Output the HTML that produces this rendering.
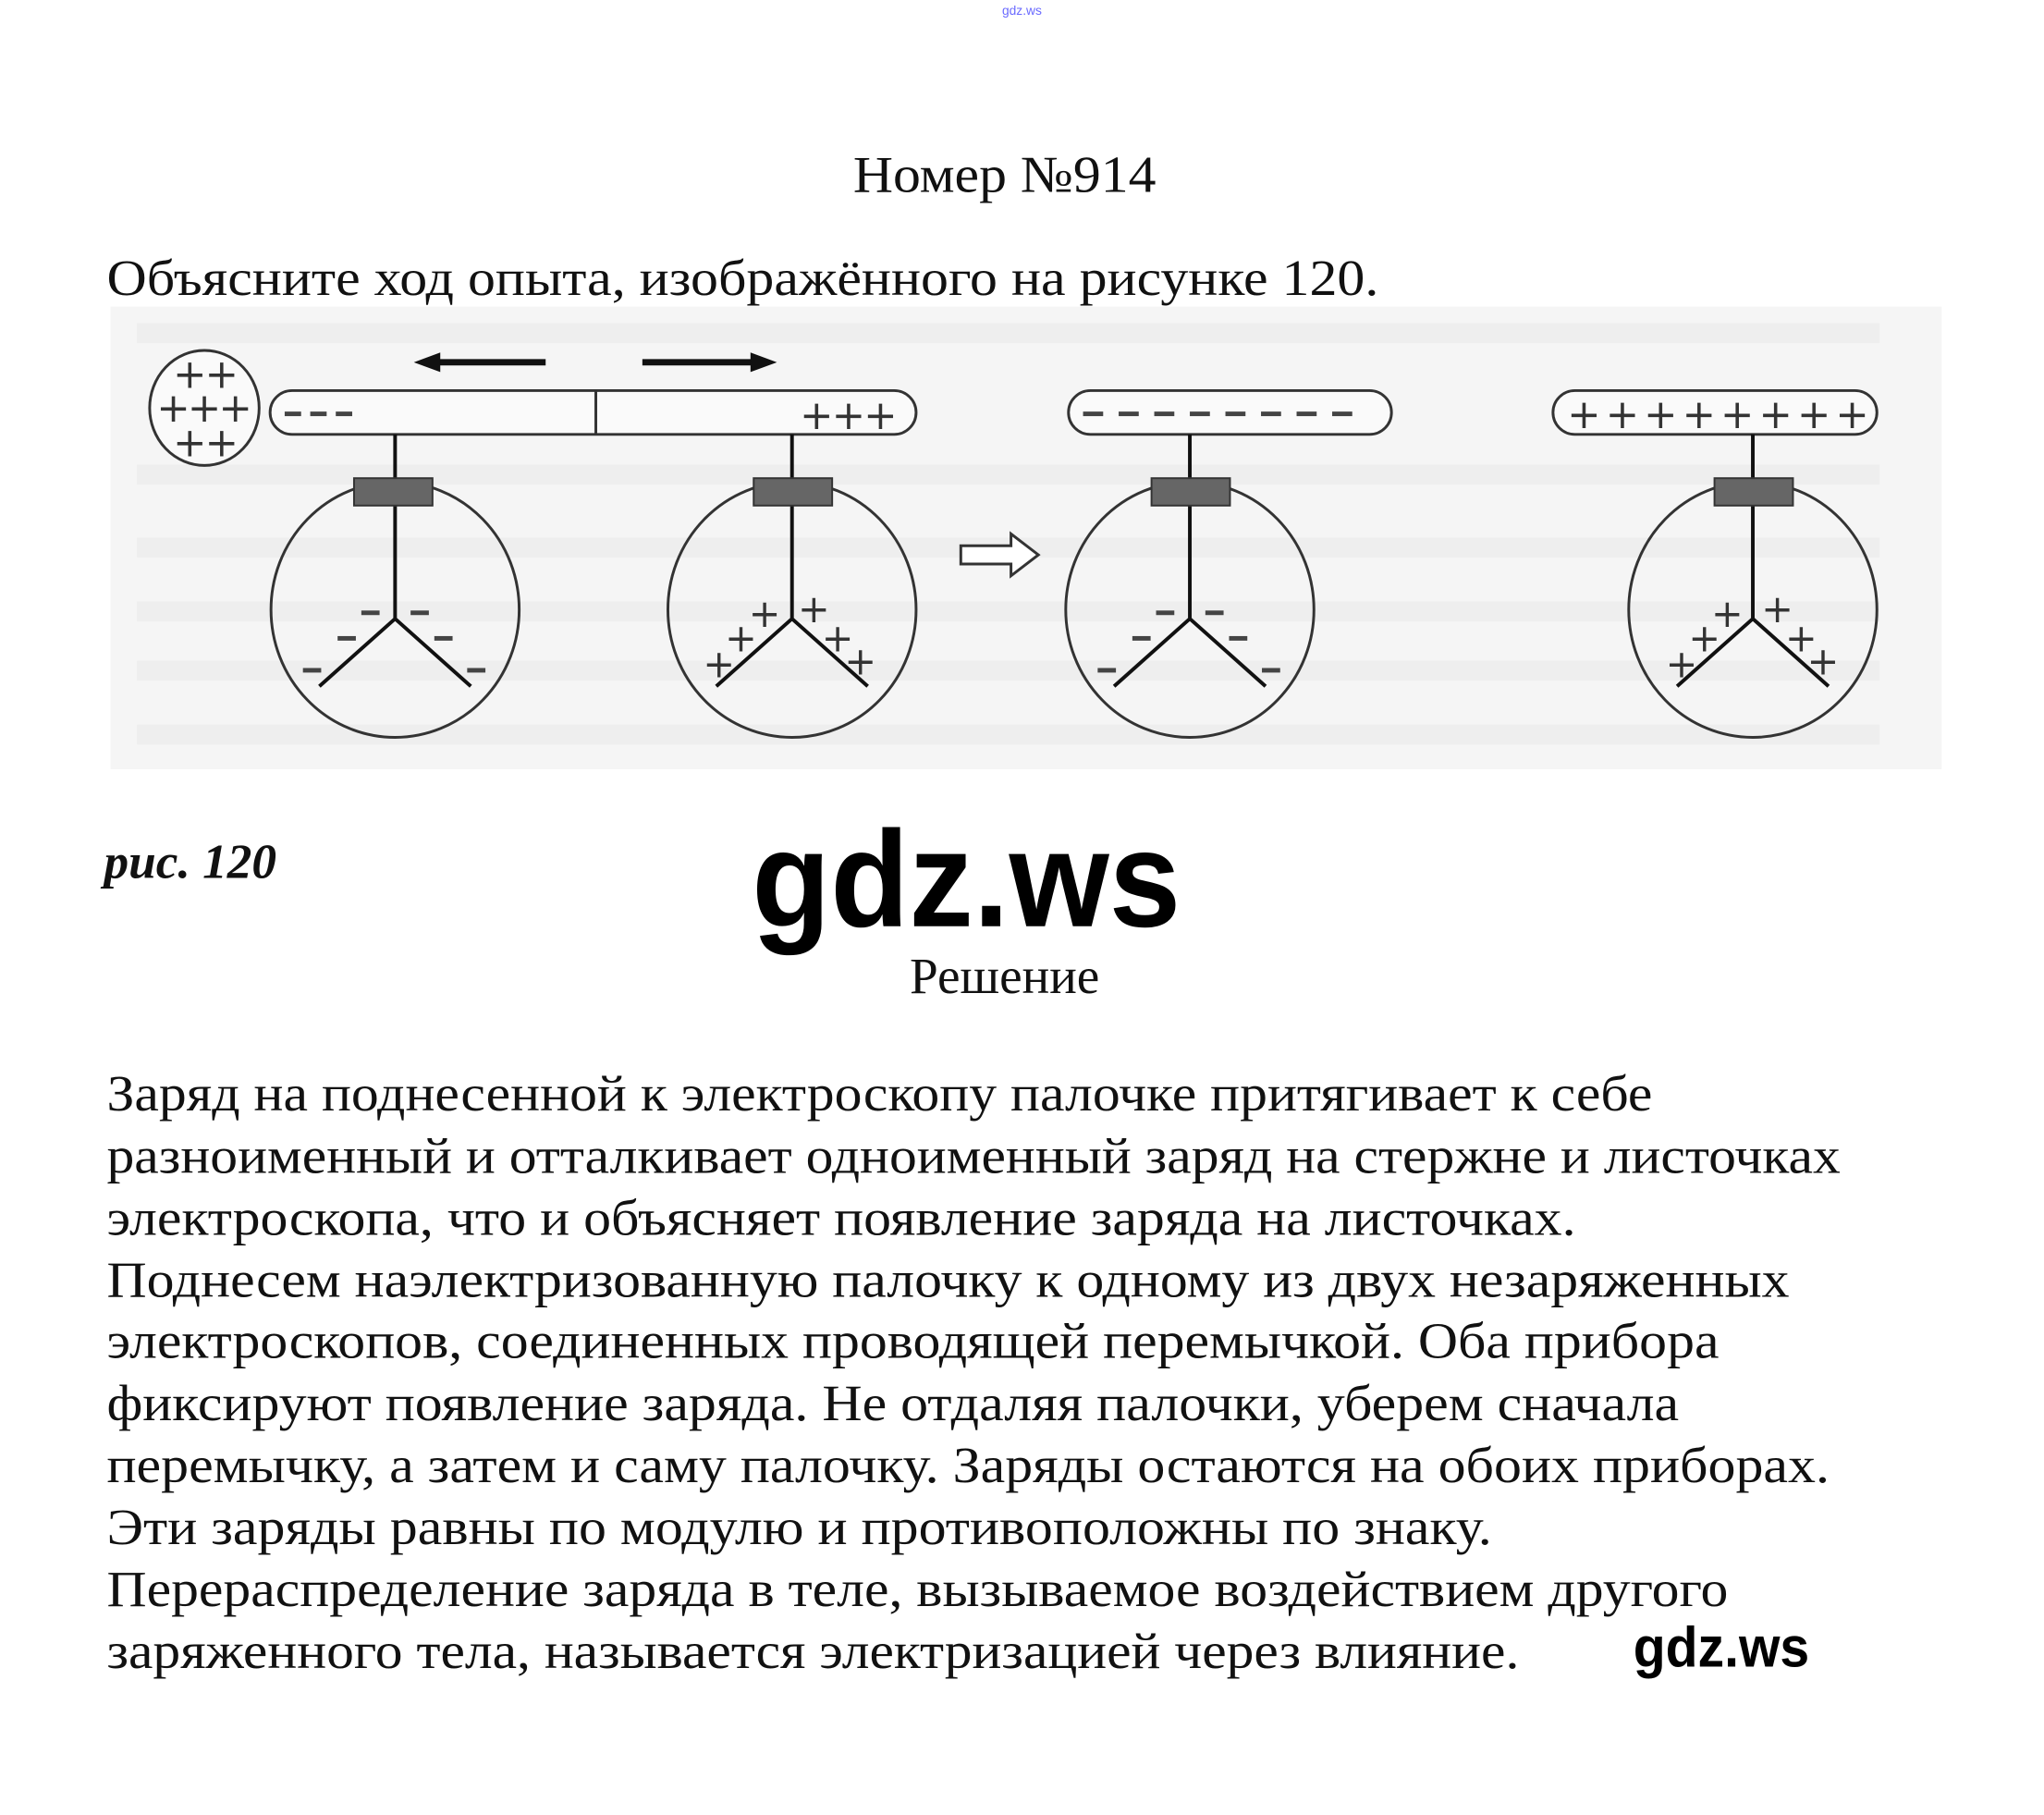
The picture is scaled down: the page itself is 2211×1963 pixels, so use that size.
<!DOCTYPE html>
<html><head><meta charset="utf-8"><style>
html,body{margin:0;padding:0;background:#fff;}
svg{display:block;}
</style></head><body>
<svg width="2211" height="1963" viewBox="0 0 2211 1963" xmlns="http://www.w3.org/2000/svg">
<rect width="2211" height="1963" fill="#fff"/>
<g transform="scale(0.987)">
<text x="1120" y="16" font-family="Liberation Sans, sans-serif" font-size="14" fill="#6a6aff" text-anchor="middle">gdz.ws</text>
<g font-family="Liberation Serif, 'Noto Serif CJK SC', serif" fill="#111">
<text x="935" y="210" font-size="57" textLength="332" lengthAdjust="spacingAndGlyphs">Номер №914</text>
<text x="117" y="323" font-size="56" textLength="1394" lengthAdjust="spacingAndGlyphs">Объясните ход опыта, изображённого на рисунке 120.</text>
</g>
<rect x="121" y="336" width="2007" height="507" fill="#f5f5f5"/>
<g stroke="#ebebeb" stroke-width="22" opacity="0.6">
<line x1="150" y1="365" x2="2060" y2="365"/>
<line x1="150" y1="520" x2="2060" y2="520"/>
<line x1="150" y1="600" x2="2060" y2="600"/>
<line x1="150" y1="670" x2="2060" y2="670"/>
<line x1="150" y1="735" x2="2060" y2="735"/>
<line x1="150" y1="805" x2="2060" y2="805"/>
</g>
<g stroke="#333" fill="none" stroke-width="3">
<ellipse cx="224" cy="447" rx="60" ry="63" fill="#fafafa"/>
<rect x="296" y="428" width="708" height="48" rx="24" fill="#fafafa"/>
<line x1="653" y1="428" x2="653" y2="476"/>
<rect x="1171" y="428" width="354" height="48" rx="24" fill="#fafafa"/>
<rect x="1702" y="428" width="355" height="48" rx="24" fill="#fafafa"/>
<ellipse cx="433" cy="668" rx="136" ry="140"/>
<ellipse cx="868" cy="668" rx="136" ry="140"/>
<ellipse cx="1304" cy="668" rx="136" ry="140"/>
<ellipse cx="1921" cy="668" rx="136" ry="140"/>
<g stroke="#111" stroke-width="4">
<path d="M433 476 V678 M433 678 L350 752 M433 678 L516 752"/>
<path d="M868 476 V678 M868 678 L785 752 M868 678 L951 752"/>
<path d="M1304 476 V678 M1304 678 L1221 752 M1304 678 L1387 752"/>
<path d="M1921 476 V678 M1921 678 L1838 752 M1921 678 L2004 752"/>
</g>
<path d="M1053 598 H1108 V585 L1138 608 L1108 631 V618 H1053 Z" stroke-width="3" fill="#fff"/>
</g>
<g fill="#666" stroke="#333" stroke-width="2">
<rect x="388" y="524" width="86" height="30"/>
<rect x="826" y="524" width="86" height="30"/>
<rect x="1262" y="524" width="86" height="30"/>
<rect x="1879" y="524" width="86" height="30"/>
</g>
<g fill="#111" stroke="#111">
<line x1="598" y1="397" x2="478" y2="397" stroke-width="7"/>
<polygon points="455,397 482,387 482,407" />
<line x1="704" y1="397" x2="826" y2="397" stroke-width="7"/>
<polygon points="850,397 823,387 823,407"/>
</g>
<g font-family="DejaVu Sans, sans-serif" fill="#333" text-anchor="middle">
<g font-size="44">
<text x="208" y="425">+</text><text x="243" y="425">+</text>
<text x="190" y="462">+</text><text x="224" y="462">+</text><text x="258" y="462">+</text>
<text x="208" y="500">+</text><text x="243" y="500">+</text>
<text x="895" y="470">+</text><text x="930" y="470">+</text><text x="965" y="470">+</text>
<text x="1736" y="469">+</text><text x="1778" y="469">+</text><text x="1820" y="469">+</text><text x="1862" y="469">+</text>
<text x="1904" y="469">+</text><text x="1946" y="469">+</text><text x="1988" y="469">+</text><text x="2030" y="469">+</text>
</g>
<g font-size="42">
<text x="838" y="687">+</text><text x="892" y="682">+</text>
<text x="812" y="714">+</text><text x="918" y="714">+</text>
<text x="788" y="742">+</text><text x="943" y="739">+</text>
<text x="1893" y="687">+</text><text x="1948" y="682">+</text>
<text x="1868" y="714">+</text><text x="1974" y="714">+</text>
<text x="1843" y="742">+</text><text x="1998" y="739">+</text>
</g>
</g>
<g fill="#444">
<rect x="312" y="451" width="18" height="5"/><rect x="340" y="451" width="18" height="5"/><rect x="368" y="451" width="18" height="5"/>
<rect x="1187" y="451" width="22" height="5"/><rect x="1226" y="451" width="22" height="5"/><rect x="1265" y="451" width="22" height="5"/><rect x="1304" y="451" width="22" height="5"/><rect x="1343" y="451" width="22" height="5"/><rect x="1382" y="451" width="22" height="5"/><rect x="1421" y="451" width="22" height="5"/><rect x="1460" y="451" width="22" height="5"/>
<rect x="396" y="669" width="20" height="5"/><rect x="450" y="669" width="20" height="5"/>
<rect x="370" y="697" width="20" height="5"/><rect x="476" y="697" width="20" height="5"/>
<rect x="332" y="732" width="20" height="5"/><rect x="512" y="732" width="20" height="5"/>
<rect x="1267" y="669" width="20" height="5"/><rect x="1321" y="669" width="20" height="5"/>
<rect x="1241" y="697" width="20" height="5"/><rect x="1347" y="697" width="20" height="5"/>
<rect x="1203" y="732" width="20" height="5"/><rect x="1383" y="732" width="20" height="5"/>
</g>
<text x="114" y="962" font-family="Liberation Serif, serif" font-size="54" font-weight="bold" font-style="italic" fill="#111">рис. 120</text>
<text x="1059" y="1015" font-family="Liberation Sans, sans-serif" font-size="150" font-weight="bold" fill="#000" text-anchor="middle" textLength="470" lengthAdjust="spacingAndGlyphs">gdz.ws</text>
<text x="1101" y="1088" font-family="Liberation Serif, serif" font-size="56" fill="#111" text-anchor="middle">Решение</text>
<g font-family="Liberation Serif, serif" font-size="56" fill="#111">
<text x="117" y="1217" textLength="1694" lengthAdjust="spacingAndGlyphs">Заряд на поднесенной к электроскопу палочке притягивает к себе</text>
<text x="117" y="1285" textLength="1900" lengthAdjust="spacingAndGlyphs">разноименный и отталкивает одноименный заряд на стержне и листочках</text>
<text x="117" y="1353" textLength="1610" lengthAdjust="spacingAndGlyphs">электроскопа, что и объясняет появление заряда на листочках.</text>
<text x="117" y="1421" textLength="1844" lengthAdjust="spacingAndGlyphs">Поднесем наэлектризованную палочку к одному из двух незаряженных</text>
<text x="117" y="1488" textLength="1767" lengthAdjust="spacingAndGlyphs">электроскопов, соединенных проводящей перемычкой. Оба прибора</text>
<text x="117" y="1556" textLength="1723" lengthAdjust="spacingAndGlyphs">фиксируют появление заряда. Не отдаляя палочки, уберем сначала</text>
<text x="117" y="1624" textLength="1888" lengthAdjust="spacingAndGlyphs">перемычку, а затем и саму палочку. Заряды остаются на обоих приборах.</text>
<text x="117" y="1692" textLength="1518" lengthAdjust="spacingAndGlyphs">Эти заряды равны по модулю и противоположны по знаку.</text>
<text x="117" y="1760" textLength="1777" lengthAdjust="spacingAndGlyphs">Перераспределение заряда в теле, вызываемое воздействием другого</text>
<text x="117" y="1828" textLength="1548" lengthAdjust="spacingAndGlyphs">заряженного тела, называется электризацией через влияние.</text>
</g>
<text x="1790" y="1826" font-family="Liberation Sans, sans-serif" font-size="62" font-weight="bold" fill="#000" textLength="193" lengthAdjust="spacingAndGlyphs">gdz.ws</text>
</g>
</svg>
</body></html>
